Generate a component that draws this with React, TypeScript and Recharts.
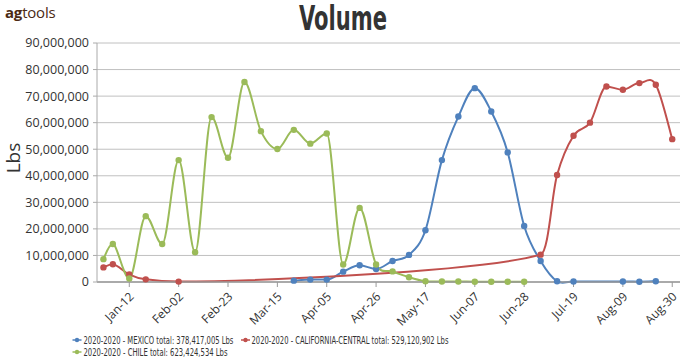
import { useLayoutEffect, useRef, useState } from "react";
import { LineChart, Line, XAxis, YAxis, CartesianGrid } from "recharts";

const BLUE = "#4f81bd";
const RED = "#c0504d";
const GREEN = "#9bbb59";
const DAY = 86400000;

const mexicoDates = [
  "2020-03-22", "2020-03-29", "2020-04-05", "2020-04-12", "2020-04-19", "2020-04-26",
  "2020-05-03", "2020-05-10", "2020-05-17", "2020-05-24", "2020-05-31", "2020-06-07",
  "2020-06-14", "2020-06-21", "2020-06-28", "2020-07-05", "2020-07-12", "2020-07-19",
  "2020-08-09", "2020-08-16", "2020-08-23",
];
const mexicoLbs = [
  500000, 900000, 900000, 3900000, 6300000, 4900000,
  7900000, 10200000, 19500000, 45900000, 62300000, 73000000,
  64200000, 48800000, 21100000, 7900000, 300000, 200000,
  200000, 100000, 300000,
];

const californiaDates = [
  "2020-01-01", "2020-01-05", "2020-01-12", "2020-01-19", "2020-02-02",
  "2020-07-05", "2020-07-12", "2020-07-19", "2020-07-26", "2020-08-02",
  "2020-08-09", "2020-08-16", "2020-08-23", "2020-08-30",
];
const californiaLbs = [
  5500000, 6700000, 2800000, 1000000, 150000,
  10300000, 40300000, 55100000, 60000000, 73600000,
  72400000, 74900000, 74300000, 53800000,
];

const chileDates = [
  "2020-01-01", "2020-01-05", "2020-01-12", "2020-01-19", "2020-01-26", "2020-02-02",
  "2020-02-09", "2020-02-16", "2020-02-23", "2020-03-01", "2020-03-08", "2020-03-15",
  "2020-03-22", "2020-03-29", "2020-04-05", "2020-04-12", "2020-04-19", "2020-04-26",
  "2020-05-03", "2020-05-10", "2020-05-17", "2020-05-24", "2020-05-31", "2020-06-07",
  "2020-06-14", "2020-06-21", "2020-06-28",
];
const chileLbs = [
  8600000, 14300000, 1300000, 24800000, 14300000, 45900000,
  11200000, 62100000, 46800000, 75300000, 56800000, 50100000,
  57300000, 52100000, 55900000, 6600000, 27900000, 6600000,
  4000000, 1800000, 300000, 200000, 200000, 100000,
  100000, 100000, 100000,
];

const xTickDates = [
  "2020-01-12", "2020-02-02", "2020-02-23", "2020-03-15", "2020-04-05", "2020-04-26",
  "2020-05-17", "2020-06-07", "2020-06-28", "2020-07-19", "2020-08-09", "2020-08-30",
];
const yTicks = [0, 10000000, 20000000, 30000000, 40000000, 50000000, 60000000, 70000000, 80000000, 90000000];

const legendItems = [
  { name: "2020-2020 - MEXICO total: 378,417,005 Lbs", color: BLUE },
  { name: "2020-2020 - CALIFORNIA-CENTRAL total: 529,120,902 Lbs", color: RED },
  { name: "2020-2020 - CHILE total: 623,424,534 Lbs", color: GREEN },
];

const MONTHS = ["Jan", "Feb", "Mar", "Apr", "May", "Jun", "Jul", "Aug", "Sep", "Oct", "Nov", "Dec"];
const fmtDate = (t: number) => {
  const d = new Date(t);
  return `${MONTHS[d.getUTCMonth()]}-${String(d.getUTCDate()).padStart(2, "0")}`;
};

// build one row per date, series missing on a date stay undefined
const rows = (() => {
  const map: Record<number, any> = {};
  const add = (dates: string[], vals: number[], key: string) =>
    dates.forEach((s, i) => {
      const t = Date.parse(s);
      map[t] = map[t] || { t };
      map[t][key] = vals[i];
    });
  add(mexicoDates, mexicoLbs, "mexico");
  add(californiaDates, californiaLbs, "california");
  add(chileDates, chileLbs, "chile");
  return Object.values(map).sort((a, b) => a.t - b.t);
})();

// catmull-rom style smoothing, flat tangent at local peaks/valleys,
// handle length kept inside each segment so long gaps don't loop
function smoothCurve(context: any) {
  let pts: number[][] = [];
  return {
    areaStart() {},
    areaEnd() {},
    lineStart() {
      pts = [];
    },
    point(x: number, y: number) {
      pts.push([+x, +y]);
    },
    lineEnd() {
      const n = pts.length;
      if (!n) return;
      context.moveTo(pts[0][0], pts[0][1]);
      if (n === 1) return;
      const tan = pts.map((p, i) => {
        const a = pts[Math.max(i - 1, 0)];
        const b = pts[Math.min(i + 1, n - 1)];
        const tx = (b[0] - a[0]) / 6;
        let ty = (b[1] - a[1]) / 6;
        if (i > 0 && i < n - 1 && (p[1] - a[1]) * (b[1] - p[1]) <= 0) ty = 0;
        return [tx, ty];
      });
      const handle = (t: number[], dx: number) => {
        const lim = dx * 0.5;
        const k = t[0] > lim ? lim / t[0] : 1;
        return [t[0] * k, t[1] * k];
      };
      for (let i = 1; i < n; i++) {
        const p0 = pts[i - 1];
        const p1 = pts[i];
        const dx = p1[0] - p0[0];
        const h0 = handle(tan[i - 1], dx);
        const h1 = handle(tan[i], dx);
        context.bezierCurveTo(p0[0] + h0[0], p0[1] + h0[1], p1[0] - h1[0], p1[1] - h1[1], p1[0], p1[1]);
      }
    },
  };
}

function DateTick({ x, y, payload }: any) {
  const ax = x - 2;
  const ay = y;
  return (
    <text
      x={ax}
      y={ay}
      transform={`rotate(-45 ${ax} ${ay})`}
      textAnchor="end"
      dominantBaseline="hanging"
      fontSize={12}
      fill="#333"
      fontFamily="'Open Sans', sans-serif"
    >
      {fmtDate(payload.value)}
    </text>
  );
}

// squeezes its text horizontally to a given width (narrow legend font)
function NarrowText({ x, y, width, children }: { x: number; y: number; width: number; children: string }) {
  const ref = useRef<SVGTextElement>(null);
  const [sx, setSx] = useState(0.72);
  useLayoutEffect(() => {
    if (!ref.current) return;
    const w = ref.current.getComputedTextLength();
    if (w > 0) setSx(width / w);
  }, [width, children]);
  return (
    <text
      ref={ref}
      transform={`translate(${x} ${y}) scale(${sx} 1)`}
      fontSize={10.5}
      fill="#333"
      fontFamily="'DejaVu Sans Condensed', 'DejaVu Sans', sans-serif"
    >
      {children}
    </text>
  );
}

export default function App() {
  const xMin = Date.parse("2020-01-01") - 2.74 * DAY;
  const xMax = Date.parse("2020-08-30") + 3.3 * DAY;
  const legendPos = [
    { x: 83.5, y: 340, w: 150, mark: 77 },
    { x: 251.5, y: 340, w: 197, mark: 245.5 },
    { x: 83.5, y: 352, w: 144, mark: 77 },
  ];

  return (
    <div style={{ position: "relative", width: 688, height: 360, background: "#fff", fontFamily: "'Open Sans', sans-serif" }}>
      <style>{"body{margin:0}"}</style>
      <div style={{ position: "absolute", left: 5, top: 2, fontSize: 15, color: "#4b2a14", letterSpacing: -0.2 }}>
        <b>ag</b>tools
      </div>
      <svg width={688} height={40} style={{ position: "absolute", left: 0, top: 0 }}>
        <text
          x={299}
          y={30}
          textLength={88}
          lengthAdjust="spacingAndGlyphs"
          fontSize={33}
          fontWeight="bold"
          fill="#333"
          fontFamily="'DejaVu Sans Condensed', 'DejaVu Sans', sans-serif"
        >
          Volume
        </text>
      </svg>
      <div
        style={{
          position: "absolute",
          left: 13,
          top: 158,
          transform: "translate(-50%, -50%) rotate(-90deg)",
          fontSize: 19,
          color: "#333",
          whiteSpace: "nowrap",
        }}
      >
        Lbs
      </div>
      <LineChart width={688} height={360} data={rows} margin={{ top: 43, right: 8, bottom: 48, left: 0 }}>
        <CartesianGrid vertical={false} stroke="#c0c0c0" />
        <XAxis
          dataKey="t"
          type="number"
          scale="linear"
          domain={[xMin, xMax]}
          ticks={xTickDates.map((s) => Date.parse(s))}
          interval={0}
          height={30}
          tick={<DateTick />}
          tickSize={5}
          tickMargin={3}
          stroke="#999"
          axisLine={{ stroke: "#999", strokeWidth: 1.5 }}
          tickLine={{ stroke: "#999" }}
          allowDataOverflow
        />
        <YAxis
          width={97}
          domain={[0, 90000000]}
          ticks={yTicks}
          interval={0}
          tickFormatter={(v: number) => v.toLocaleString("en-US")}
          tick={{ fill: "#333", fontSize: 12.5, fontFamily: "'Open Sans', sans-serif" }}
          tickSize={4}
          tickMargin={4}
          axisLine={{ stroke: "#aaa" }}
          tickLine={{ stroke: "#aaa" }}
        />
        <Line
          dataKey="mexico"
          type={smoothCurve as any}
          stroke={BLUE}
          strokeWidth={2}
          dot={{ r: 3.2, fill: BLUE, stroke: BLUE, strokeWidth: 0 }}
          connectNulls
          isAnimationActive={false}
        />
        <Line
          dataKey="california"
          type={smoothCurve as any}
          stroke={RED}
          strokeWidth={2}
          dot={{ r: 3.2, fill: RED, stroke: RED, strokeWidth: 0 }}
          connectNulls
          isAnimationActive={false}
        />
        <Line
          dataKey="chile"
          type={smoothCurve as any}
          stroke={GREEN}
          strokeWidth={2}
          dot={{ r: 3.2, fill: GREEN, stroke: GREEN, strokeWidth: 0 }}
          connectNulls
          isAnimationActive={false}
        />
      </LineChart>
      <svg width={688} height={40} style={{ position: "absolute", left: 0, top: 325 }}>
        {legendItems.map((it, i) => {
          const p = legendPos[i];
          const cy = p.y - 325;
          return (
            <g key={it.name}>
              <line x1={p.mark - 4.5} y1={cy} x2={p.mark + 4.5} y2={cy} stroke={it.color} strokeWidth={1.5} />
              <circle cx={p.mark} cy={cy} r={2.2} fill={it.color} />
              <NarrowText x={p.x} y={cy + 3.7} width={p.w}>
                {it.name}
              </NarrowText>
            </g>
          );
        })}
      </svg>
    </div>
  );
}
